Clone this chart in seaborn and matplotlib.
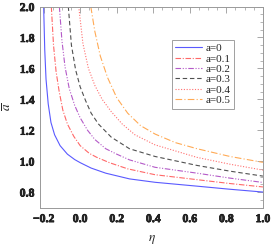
import numpy as np
import pandas as pd
import seaborn as sns
import matplotlib.pyplot as plt
import matplotlib.patheffects as pe
from matplotlib.ticker import MultipleLocator

# values
eta_a0 = [-0.200, -0.194, -0.187, -0.175, -0.160, -0.140, -0.110, -0.070, -0.030, 0.000, 0.060, 0.140, 0.270, 0.410, 0.640, 0.820, 1.000]
abar_a0 = [2.00, 1.72, 1.53, 1.37, 1.25, 1.17, 1.10, 1.045, 1.01, 0.99, 0.955, 0.922, 0.885, 0.863, 0.838, 0.818, 0.800]

eta_a1 = [-0.158, -0.146, -0.132, -0.115, -0.095, -0.070, -0.035, 0.000, 0.050, 0.090, 0.160, 0.260, 0.410, 0.640, 0.820, 1.000]
abar_a1 = [2.00, 1.75, 1.58, 1.45, 1.33, 1.24, 1.16, 1.10, 1.05, 1.025, 0.99, 0.95, 0.912, 0.880, 0.855, 0.833]

eta_a2 = [-0.114, -0.100, -0.083, -0.060, -0.030, 0.000, 0.040, 0.080, 0.140, 0.200, 0.270, 0.410, 0.640, 0.820, 1.000]
abar_a2 = [2.00, 1.78, 1.61, 1.47, 1.36, 1.28, 1.20, 1.14, 1.08, 1.045, 1.008, 0.960, 0.922, 0.890, 0.862]

eta_a3 = [-0.065, -0.048, -0.025, 0.000, 0.030, 0.060, 0.100, 0.170, 0.270, 0.410, 0.640, 0.820, 1.000]
abar_a3 = [2.00, 1.75, 1.59, 1.48, 1.39, 1.31, 1.24, 1.155, 1.08, 1.030, 0.972, 0.935, 0.903]

eta_a4 = [-0.008, 0.015, 0.045, 0.080, 0.120, 0.170, 0.230, 0.300, 0.410, 0.640, 0.820, 1.000]
abar_a4 = [2.00, 1.76, 1.60, 1.49, 1.40, 1.32, 1.24, 1.17, 1.105, 1.024, 0.980, 0.942]

eta_a5 = [0.058, 0.080, 0.110, 0.150, 0.200, 0.260, 0.330, 0.410, 0.520, 0.640, 0.820, 1.000]
abar_a5 = [2.00, 1.84, 1.68, 1.54, 1.41, 1.31, 1.23, 1.175, 1.12, 1.08, 1.03, 0.992]

labels = ["a=0", "a=0.1", "a=0.2", "a=0.3", "a=0.4", "a=0.5"]

#%%
frames = []
for lab, x, y in zip(labels,
                     [eta_a0, eta_a1, eta_a2, eta_a3, eta_a4, eta_a5],
                     [abar_a0, abar_a1, abar_a2, abar_a3, abar_a4, abar_a5]):
    frames.append(pd.DataFrame({"eta": x, "abar": y, "curve": lab}))
df = pd.concat(frames, ignore_index=True)

colors = {"a=0": "#5a5aff", "a=0.1": "#ff6868", "a=0.2": "#b45ac8",
          "a=0.3": "#505050", "a=0.4": "#ff7070", "a=0.5": "#ffaa55"}
dashes = {"a=0": "", "a=0.1": (5, 1.5, 1, 1.5), "a=0.2": (5, 1.5, 1, 1.5, 1, 1.5),
          "a=0.3": (4, 2.5), "a=0.4": (1, 1.5), "a=0.5": (6, 2, 1, 2)}

#%%
sns.set_style("white")
plt.rcParams["font.family"] = ["Liberation Serif", "DejaVu Serif"]
plt.rcParams["mathtext.fontset"] = "stix"

fig = plt.figure(figsize=(2.73, 2.46), dpi=100)
ax = fig.add_axes([0.1465, 0.1565, 0.8165, 0.817])
sns.lineplot(data=df, x="eta", y="abar", hue="curve", style="curve",
             palette=colors, dashes=dashes, estimator=None, sort=False,
             linewidth=0.8, ax=ax)

ax.set_xlim(-0.22, 1.0)
ax.set_ylim(0.7, 2.0)
ax.xaxis.set_minor_locator(MultipleLocator(0.05))
ax.yaxis.set_minor_locator(MultipleLocator(0.05))
ax.set_xticks(np.arange(-0.2, 1.01, 0.2))
ax.set_xticklabels(["\u22120.2", "0.0", "0.2", "0.4", "0.6", "0.8", "1.0"],
                   fontweight="bold", fontsize=8.5)
ax.set_yticks(np.arange(0.8, 2.01, 0.2))
ax.set_yticklabels(["0.8", "1.0", "1.2", "1.4", "1.6", "1.8", "2.0"],
                   fontweight="bold", fontsize=8.5)
# thicken the tick labels a little, the reference is heavy bold
for t in ax.get_xticklabels() + ax.get_yticklabels():
    t.set_path_effects([pe.withStroke(linewidth=0.5, foreground="black")])
ax.tick_params(which="both", direction="in", top=True, right=True, color="#999999")
ax.tick_params(which="major", length=4, width=0.6, pad=4)
ax.tick_params(which="minor", length=2, width=0.5)
for s in ax.spines.values():
    s.set_color("#999999")
    s.set_linewidth(0.7)

ax.set_xlabel(r"$\eta$", fontsize=9.5, labelpad=6)
ax.set_ylabel(r"$\overline{a}$", fontsize=9.5, labelpad=4)

leg = ax.legend(loc="upper left", bbox_to_anchor=(0.59, 0.835), fontsize=8,
                frameon=True, fancybox=False, handlelength=2.4, handletextpad=0.3,
                labelspacing=0.05, borderpad=0.35, borderaxespad=0)
leg.get_frame().set_edgecolor("#888888")
leg.get_frame().set_linewidth(0.7)

fig.savefig("out.png", dpi=100)
